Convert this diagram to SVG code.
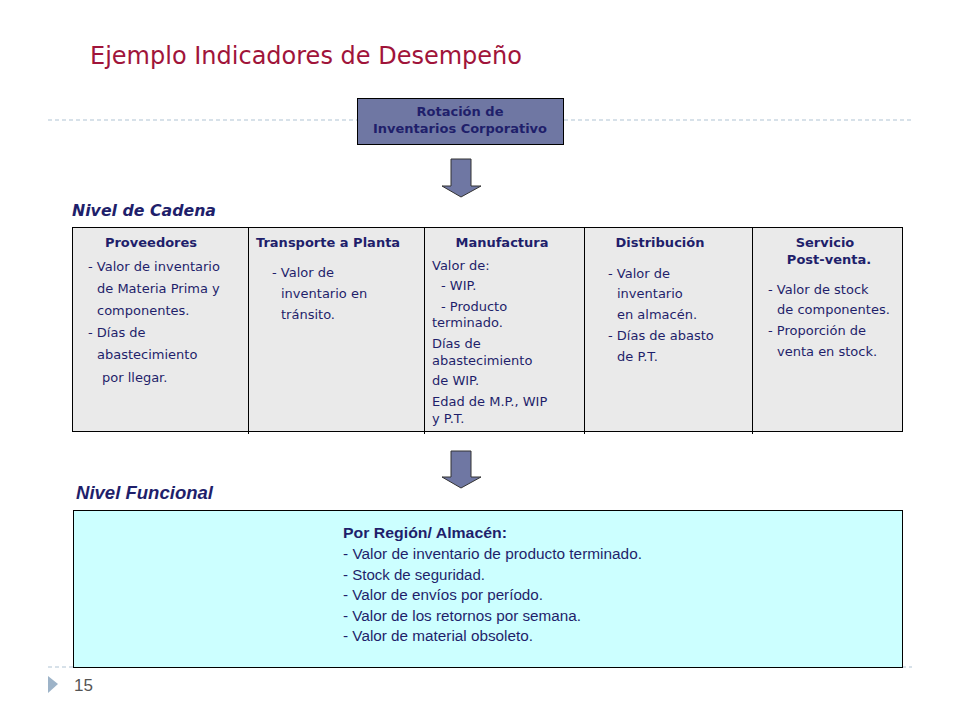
<svg xmlns="http://www.w3.org/2000/svg" width="960" height="720" viewBox="0 0 960 720">
<style>
.dash{stroke:#AFC3D3;stroke-width:1;stroke-dasharray:4 3;fill:none}
.t{font-family:"DejaVu Sans",Verdana,sans-serif;font-size:13px;fill:#1F1F6B}
.h{font-family:"DejaVu Sans",Verdana,sans-serif;font-size:13px;font-weight:bold;fill:#1F1F6B}
.f{font-family:"Liberation Sans",Arial,sans-serif;font-size:14px;fill:#1F1F6B}
.fb{font-family:"Liberation Sans",Arial,sans-serif;font-size:14px;font-weight:bold;fill:#1F1F6B}
.arrow{fill:#6F77A3;stroke:#333;stroke-width:1}
</style>
<rect width="960" height="720" fill="#FFFFFF"/>
<line class="dash" x1="48" y1="120" x2="357" y2="120"/>
<line class="dash" x1="564" y1="120" x2="912" y2="120"/>
<line class="dash" x1="48" y1="667" x2="912" y2="667"/>
<text x="90" y="64" font-family="DejaVu Sans,Verdana,sans-serif" font-size="25" fill="#A0143A" textLength="432" lengthAdjust="spacingAndGlyphs">Ejemplo Indicadores de Desempeño</text>

<g id="corporativo">
<rect x="357.5" y="98.5" width="206" height="46" fill="#6F77A3" stroke="#000" stroke-width="1"/>
<text class="h" x="460" y="116" text-anchor="middle">Rotación de</text>
<text class="h" x="460" y="133" text-anchor="middle">Inventarios Corporativo</text>
</g>

<g id="connectors">
<path class="arrow" d="M451,159 H471 V186 H481 L461,197 L442,186 H451 Z"/>
<path class="arrow" d="M451,451 H471 V477 H481 L461,488 L442,477 H451 Z"/>
</g>

<text x="72" y="216" font-family="DejaVu Sans,Verdana,sans-serif" font-size="16" font-weight="bold" font-style="italic" fill="#1F1F6B" textLength="144" lengthAdjust="spacingAndGlyphs">Nivel de Cadena</text>

<g id="cadena">
<rect x="72.5" y="227.5" width="830" height="204" fill="#EAEAEA" stroke="#000" stroke-width="1"/>
<line x1="248.5" y1="227" x2="248.5" y2="434" stroke="#000"/>
<line x1="424.5" y1="227" x2="424.5" y2="434" stroke="#000"/>
<line x1="584.5" y1="227" x2="584.5" y2="434" stroke="#000"/>
<line x1="752.5" y1="227" x2="752.5" y2="434" stroke="#000"/>
</g>

<g id="proveedores">
<text class="h" x="151" y="247" text-anchor="middle">Proveedores</text>
<text class="t" x="88" y="271">- Valor de inventario</text>
<text class="t" x="97" y="293">de Materia Prima  y</text>
<text class="t" x="97" y="315">componentes.</text>
<text class="t" x="88" y="337">- Días de</text>
<text class="t" x="97" y="359">abastecimiento</text>
<text class="t" x="102" y="382">por llegar.</text>
</g>

<g id="transporte">
<text class="h" x="256" y="247">Transporte a Planta</text>
<text class="t" x="272" y="277">- Valor de</text>
<text class="t" x="281" y="298">inventario  en</text>
<text class="t" x="281" y="319">tránsito.</text>
</g>

<g id="manufactura">
<text class="h" x="502" y="247" text-anchor="middle">Manufactura</text>
<text class="t" x="432" y="270">Valor de:</text>
<text class="t" x="441" y="290">- WIP.</text>
<text class="t" x="441" y="311">- Producto</text>
<text class="t" x="432" y="327">terminado.</text>
<text class="t" x="432" y="348">Días de</text>
<text class="t" x="432" y="365">abastecimiento</text>
<text class="t" x="432" y="385">de WIP.</text>
<text class="t" x="432" y="406">Edad de M.P., WIP</text>
<text class="t" x="432" y="423">y P.T.</text>
</g>

<g id="distribucion">
<text class="h" x="660" y="247" text-anchor="middle">Distribución</text>
<text class="t" x="608" y="278">- Valor de</text>
<text class="t" x="617" y="298">inventario</text>
<text class="t" x="617" y="319">en almacén.</text>
<text class="t" x="608" y="340">- Días de abasto</text>
<text class="t" x="617" y="361">de P.T.</text>
</g>

<g id="servicio">
<text class="h" x="825" y="247" text-anchor="middle">Servicio</text>
<text class="h" x="829" y="264" text-anchor="middle">Post-venta.</text>
<text class="t" x="768" y="294">- Valor de stock</text>
<text class="t" x="777" y="314">de componentes.</text>
<text class="t" x="768" y="335">- Proporción de</text>
<text class="t" x="777" y="356">venta en stock.</text>
</g>

<text x="76" y="499" font-family="Liberation Sans,Arial,sans-serif" font-size="18" font-weight="bold" font-style="italic" fill="#1F1F6B" textLength="137" lengthAdjust="spacingAndGlyphs">Nivel Funcional</text>

<g id="funcional">
<rect x="73.5" y="510.5" width="829" height="157" fill="#CCFFFF" stroke="#000" stroke-width="1"/>
<text class="fb" x="343" y="538" textLength="164" lengthAdjust="spacingAndGlyphs">Por Región/  Almacén:</text>
<text class="f" x="343" y="559" textLength="299" lengthAdjust="spacingAndGlyphs">- Valor de inventario de producto terminado.</text>
<text class="f" x="343" y="580" textLength="142" lengthAdjust="spacingAndGlyphs">- Stock de seguridad.</text>
<text class="f" x="343" y="600" textLength="200" lengthAdjust="spacingAndGlyphs">- Valor de envíos por período.</text>
<text class="f" x="343" y="621" textLength="238" lengthAdjust="spacingAndGlyphs">- Valor de los retornos por semana.</text>
<text class="f" x="343" y="641" textLength="190" lengthAdjust="spacingAndGlyphs">- Valor de material obsoleto.</text>
</g>

<polygon points="48,676 58,684 48,693" fill="#9DB3C8"/>
<text x="74" y="691" font-family="Liberation Sans,Arial,sans-serif" font-size="17" fill="#555">15</text>
</svg>
